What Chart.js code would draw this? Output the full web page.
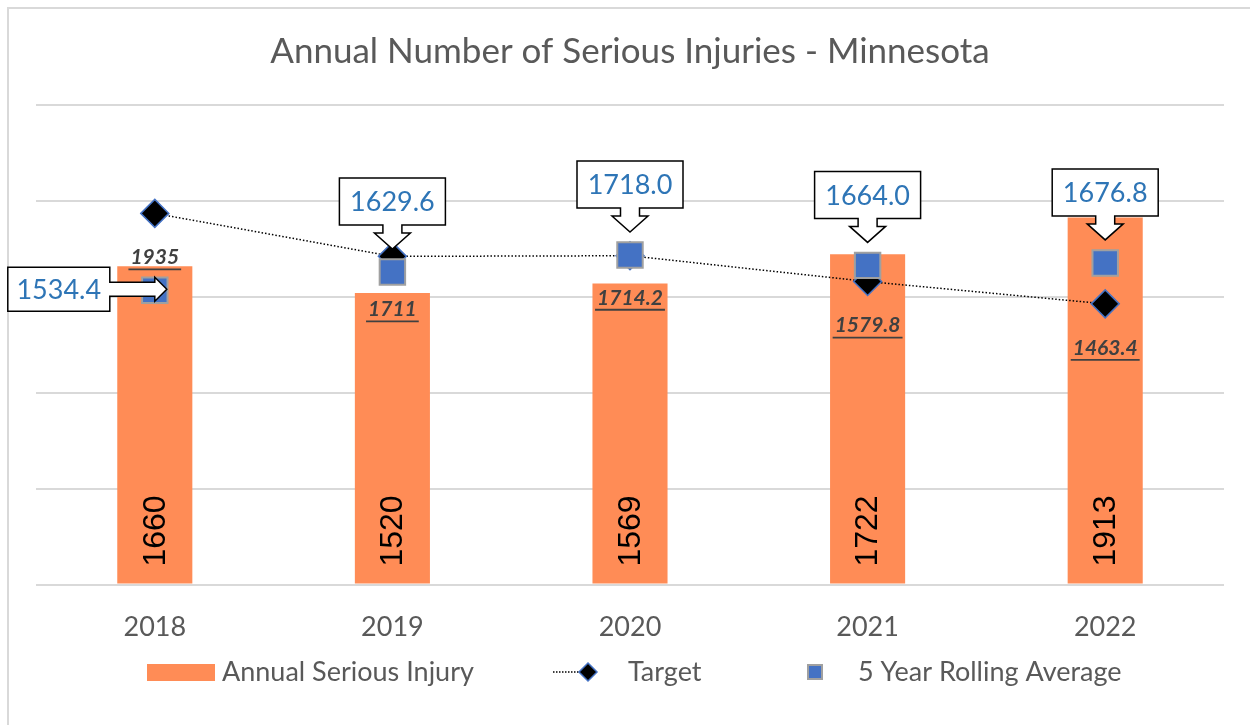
<!DOCTYPE html>
<html>
<head>
<meta charset="utf-8">
<script src="https://cdn.jsdelivr.net/npm/chart.js@4"></script>
<style>
  body { margin: 0; background: #fff; }
  #wrap { width: 1250px; height: 725px; }
</style>
</head>
<body>
<div id="wrap"><canvas id="injuryChart" width="1250" height="725"></canvas></div>
<script>
// data
const years = ['2018', '2019', '2020', '2021', '2022'];
const annualInjuries = [1660, 1520, 1569, 1722, 1913];
const targetValues = [1935, 1711, 1714.2, 1579.8, 1463.4];
const rollingAverage = [1534.4, 1629.6, 1718.0, 1664.0, 1676.8];
const yTicks = [0, 500, 1000, 1500, 2000, 2500];

const FONT = 'Lato';
const GREY_TEXT = '#595959';
const ORANGE = '#FF8C56';
const BLUE = '#4472C4';

// little offsets for the target labels (below each diamond)
const targetLabelOffset = [44, 53, 42, 44, 44];

function drawDown(ctx, tx, ty, text) {
    const w = 106, h = 47;
    const bb = ty - 24;
    ctx.beginPath();
    ctx.moveTo(tx - w / 2, bb - h);
    ctx.lineTo(tx + w / 2, bb - h);
    ctx.lineTo(tx + w / 2, bb);
    ctx.lineTo(tx + 9.5, bb);
    ctx.lineTo(tx + 9.5, bb + 8);
    ctx.lineTo(tx + 18, bb + 8);
    ctx.lineTo(tx, ty);
    ctx.lineTo(tx - 18, bb + 8);
    ctx.lineTo(tx - 9.5, bb + 8);
    ctx.lineTo(tx - 9.5, bb);
    ctx.lineTo(tx - w / 2, bb);
    ctx.closePath();
    ctx.fillStyle = '#fff';
    ctx.fill();
    ctx.lineWidth = 1.5;
    ctx.strokeStyle = '#000';
    ctx.stroke();
    ctx.fillStyle = '#2E75B6';
    ctx.textAlign = 'center';
    ctx.textBaseline = 'middle';
    ctx.fillText(text, tx, bb - h / 2 + 1);
}

function drawRight(ctx, tx, ty, text) {
    const w = 102, h = 44;
    const br = tx - 57;
    ctx.beginPath();
    ctx.moveTo(br - w, ty - h / 2);
    ctx.lineTo(br, ty - h / 2);
    ctx.lineTo(br, ty - 7);
    ctx.lineTo(tx - 12, ty - 7);
    ctx.lineTo(tx - 12, ty - 12);
    ctx.lineTo(tx, ty);
    ctx.lineTo(tx - 12, ty + 12);
    ctx.lineTo(tx - 12, ty + 7);
    ctx.lineTo(br, ty + 7);
    ctx.lineTo(br, ty + h / 2);
    ctx.lineTo(br - w, ty + h / 2);
    ctx.closePath();
    ctx.fillStyle = '#fff';
    ctx.fill();
    ctx.lineWidth = 1.5;
    ctx.strokeStyle = '#000';
    ctx.stroke();
    ctx.fillStyle = '#2E75B6';
    ctx.textAlign = 'center';
    ctx.textBaseline = 'middle';
    ctx.fillText(text, br - w / 2, ty + 1);
}

const overlayPlugin = {
    id: 'overlay',
    beforeDraw(chart) {
        const ctx = chart.ctx;
        ctx.save();
        ctx.strokeStyle = '#d9d9d9';
        ctx.lineWidth = 2;
        ctx.beginPath();
        ctx.moveTo(8, 725);
        ctx.lineTo(8, 8);
        ctx.lineTo(1250, 8);
        ctx.stroke();
        ctx.restore();
    },
    afterDatasetsDraw(chart) {
        const ctx = chart.ctx;
        const base = chart.scales.y.getPixelForValue(0);

        // values inside the bars, rotated
        ctx.save();
        ctx.font = '32px "Liberation Sans"';
        ctx.fillStyle = '#000';
        chart.getDatasetMeta(0).data.forEach((bar, i) => {
            ctx.save();
            ctx.translate(bar.x, base - 18);
            ctx.rotate(-Math.PI / 2);
            ctx.textAlign = 'left';
            ctx.textBaseline = 'middle';
            ctx.fillText(String(annualInjuries[i]), 0, 1);
            ctx.restore();
        });
        ctx.restore();

        // target labels, bold italic underlined
        ctx.save();
        ctx.font = 'italic bold 21px ' + FONT;
        ctx.fillStyle = '#404040';
        ctx.strokeStyle = '#404040';
        ctx.textAlign = 'center';
        ctx.textBaseline = 'middle';
        chart.getDatasetMeta(1).data.forEach((pt, i) => {
            const txt = String(targetValues[i]);
            const y = pt.y + targetLabelOffset[i];
            ctx.fillText(txt, pt.x, y);
            const tw = ctx.measureText(txt).width;
            ctx.lineWidth = 1.8;
            ctx.beginPath();
            ctx.moveTo(pt.x - tw / 2 - 2, y + 12);
            ctx.lineTo(pt.x + tw / 2 + 2, y + 12);
            ctx.stroke();
        });
        ctx.restore();

        // callouts for the rolling average
        ctx.save();
        ctx.font = '27px ' + FONT;
        chart.getDatasetMeta(2).data.forEach((pt, i) => {
            const txt = rollingAverage[i].toFixed(1);
            if (i === 0) {
                drawRight(ctx, pt.x + 12, pt.y - 1, txt);
            } else {
                drawDown(ctx, pt.x, pt.y - 23, txt);
            }
        });
        ctx.restore();
    },
    afterDraw(chart) {
        const ctx = chart.ctx;
        const ds = chart.data.datasets;
        const y = 672;
        ctx.save();
        ctx.font = '27px ' + FONT;
        ctx.fillStyle = GREY_TEXT;
        ctx.textBaseline = 'middle';
        ctx.textAlign = 'left';

        // bar swatch
        ctx.fillStyle = ORANGE;
        ctx.fillRect(147, y - 8, 68, 17);
        ctx.fillStyle = GREY_TEXT;
        ctx.fillText(ds[0].label, 222, y);

        // dotted line + diamond
        ctx.strokeStyle = '#000';
        ctx.lineWidth = 1.5;
        ctx.setLineDash([1.5, 1.5]);
        ctx.beginPath();
        ctx.moveTo(553, y);
        ctx.lineTo(580, y);
        ctx.stroke();
        ctx.setLineDash([]);
        ctx.beginPath();
        ctx.moveTo(588, y - 9);
        ctx.lineTo(597, y);
        ctx.lineTo(588, y + 9);
        ctx.lineTo(579, y);
        ctx.closePath();
        ctx.fillStyle = '#000';
        ctx.fill();
        ctx.strokeStyle = BLUE;
        ctx.lineWidth = 1.5;
        ctx.stroke();
        ctx.fillStyle = GREY_TEXT;
        ctx.fillText(ds[1].label, 628, y);

        // square swatch
        ctx.fillStyle = BLUE;
        ctx.fillRect(808, y - 7, 14, 14);
        ctx.strokeStyle = '#A0A0A0';
        ctx.lineWidth = 2;
        ctx.strokeRect(808, y - 7, 14, 14);
        ctx.fillStyle = GREY_TEXT;
        ctx.fillText(ds[2].label, 858, y);
        ctx.restore();
    }
};

const ctx = document.getElementById('injuryChart').getContext('2d');
new Chart(ctx, {
    type: 'bar',
    data: {
        labels: years,
        datasets: [
            {
                label: 'Annual Serious Injury',
                data: annualInjuries,
                backgroundColor: ORANGE,
                barPercentage: 0.316,
                categoryPercentage: 1,
                order: 3
            },
            {
                type: 'line',
                label: 'Target',
                data: targetValues,
                borderColor: '#000',
                borderWidth: 1.5,
                borderDash: [1.5, 2],
                pointStyle: 'rectRot',
                pointRadius: 14,
                pointBackgroundColor: '#000',
                pointBorderColor: BLUE,
                pointBorderWidth: 1.5,
                fill: false,
                order: 2
            },
            {
                type: 'line',
                label: '5 Year Rolling Average',
                data: rollingAverage,
                showLine: false,
                pointStyle: 'rect',
                pointRadius: 18,
                pointBackgroundColor: BLUE,
                pointBorderColor: '#A0A0A0',
                pointBorderWidth: 2,
                order: 1
            }
        ]
    },
    options: {
        responsive: false,
        animation: false,
        layout: {
            padding: { left: 36, right: 26, top: 0, bottom: 64 }
        },
        scales: {
            x: {
                grid: { display: false },
                border: { display: false },
                ticks: {
                    color: GREY_TEXT,
                    font: { family: FONT, size: 27 },
                    padding: 18
                }
            },
            y: {
                min: yTicks[0],
                max: yTicks[yTicks.length - 1],
                afterBuildTicks: (axis) => {
                    axis.ticks = yTicks.map(v => ({ value: v }));
                },
                ticks: { display: false },
                grid: { color: '#d9d9d9', lineWidth: 2, drawTicks: false },
                border: { display: false }
            }
        },
        plugins: {
            legend: { display: false },
            tooltip: { enabled: false },
            title: {
                display: true,
                text: 'Annual Number of Serious Injuries - Minnesota',
                color: GREY_TEXT,
                font: { family: FONT, size: 35, weight: 'normal' },
                padding: { top: 31, bottom: 32 }
            }
        }
    },
    plugins: [overlayPlugin]
});
</script>
</body>
</html>
